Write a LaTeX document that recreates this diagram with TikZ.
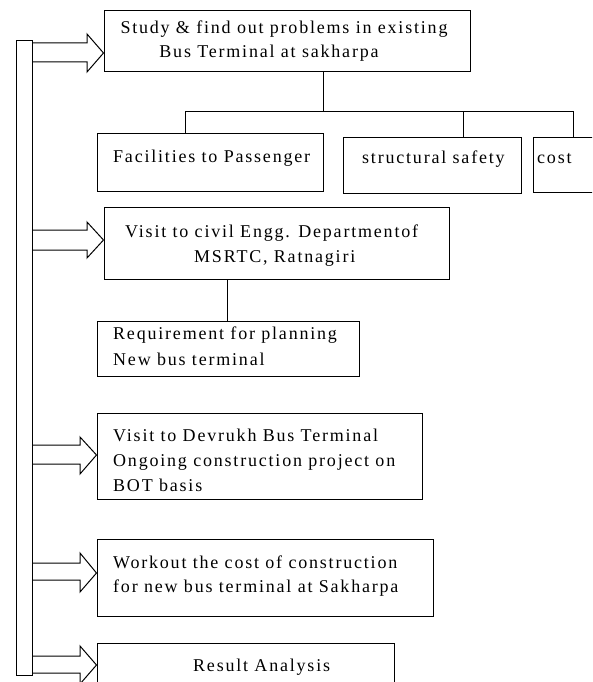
\documentclass[tikz,border=0pt]{standalone}
\usepackage{fontspec}
\setmainfont{Liberation Serif}[LetterSpace=10]
\begin{document}
\begin{tikzpicture}[x=1pt,y=-1pt,
  box/.style={draw, line width=1pt, inner sep=0pt, rectangle},
  txt/.style={inner sep=0pt, anchor=base west, font=\fontsize{18}{24}\selectfont},
  ctxt/.style={inner sep=0pt, anchor=base, font=\fontsize{18}{24}\selectfont},
  barrow/.style={draw, line width=1pt, line join=miter},
  conn/.style={draw, line width=1pt}]
\useasboundingbox (0,0) rectangle (592,682);
\clip (0,0) rectangle (592,682);
% left bar
\node[box, minimum width=16pt, minimum height=634pt] (bar) at (24,358) {};
% boxes
\node[box, minimum width=366pt, minimum height=61pt] (b1) at (287,41.5) {};
\node[box, minimum width=226pt, minimum height=58pt] (bf) at (210,162) {};
\node[box, minimum width=178pt, minimum height=56pt] (bs) at (432,165) {};
\node[box, minimum width=67pt, minimum height=55pt] (bc) at (566.5,164.5) {};
\node[box, minimum width=345pt, minimum height=72pt] (b2) at (276.5,243) {};
\node[box, minimum width=262pt, minimum height=55pt] (br) at (228,348.5) {};
\node[box, minimum width=325pt, minimum height=86pt] (b3) at (259.5,456) {};
\node[box, minimum width=336pt, minimum height=77pt] (b4) at (265,577.5) {};
\node[box, minimum width=297pt, minimum height=57pt] (b5) at (245.5,671.5) {};
% texts
\node[ctxt] (t1a) at (284,34) {Study \& find out problems in existing};
\node[ctxt] (t1b) at (269,58) {Bus Terminal at sakharpa};
\node[txt] (tf) at (113,162) {Facilities to Passenger};
\node[txt] (ts) at (362,163) {structural safety};
\node[txt] (tc) at (537,163) {cost};
\node[txt] (t2a) at (125,237) {Visit to civil Engg. Departmentof};
\node[txt] (t2b) at (194,262) {MSRTC, Ratnagiri};
\node[txt] (tra) at (113,339) {Requirement for planning};
\node[txt] (trb) at (113,365) {New bus terminal};
\node[txt] (t3a) at (113,441) {Visit to Devrukh Bus Terminal};
\node[txt] (t3b) at (113,466) {Ongoing construction project on};
\node[txt] (t3c) at (113,491) {BOT basis};
\node[txt] (t4a) at (113,568) {Workout the cost of construction};
\node[txt] (t4b) at (113,592) {for new bus terminal at Sakharpa};
\node[txt] (t5) at (193,671) {Result Analysis};
% tree connectors
\coordinate (j) at (323,112);
\coordinate (hl) at (185,112);
\coordinate (hm) at (463,112);
\coordinate (hr) at (573,112);
\draw[conn] (b1.south -| j) -- (j);
\draw[conn] (bf.north -| hl) -- (hl) -- (hr) -- (bc.north -| hr);
\draw[conn] (hm) -- (bs.north -| hm);
\coordinate (s2) at (227,300);
\draw[conn] (b2.south -| s2) -- (br.north -| s2);
% block arrows
\draw[barrow] (bar.east |- 0,43) -- (87,43) -- (87,34) -- (b1.west |- 0,53) -- (87,72) -- (87,62) -- (bar.east |- 0,62);
\draw[barrow] (bar.east |- 0,230) -- (87,230) -- (87,222) -- (b2.west |- 0,240) -- (87,258) -- (87,250) -- (bar.east |- 0,250);
\draw[barrow] (bar.east |- 0,445) -- (80,445) -- (80,437) -- (b3.west |- 0,455) -- (80,474) -- (80,464) -- (bar.east |- 0,464);
\draw[barrow] (bar.east |- 0,563) -- (80,563) -- (80,553) -- (b4.west |- 0,573) -- (80,592) -- (80,580) -- (bar.east |- 0,580);
\draw[barrow] (bar.east |- 0,656) -- (80,656) -- (80,646) -- (b5.west |- 0,665) -- (80,684) -- (80,673) -- (bar.east |- 0,673);
\end{tikzpicture}
\end{document}
